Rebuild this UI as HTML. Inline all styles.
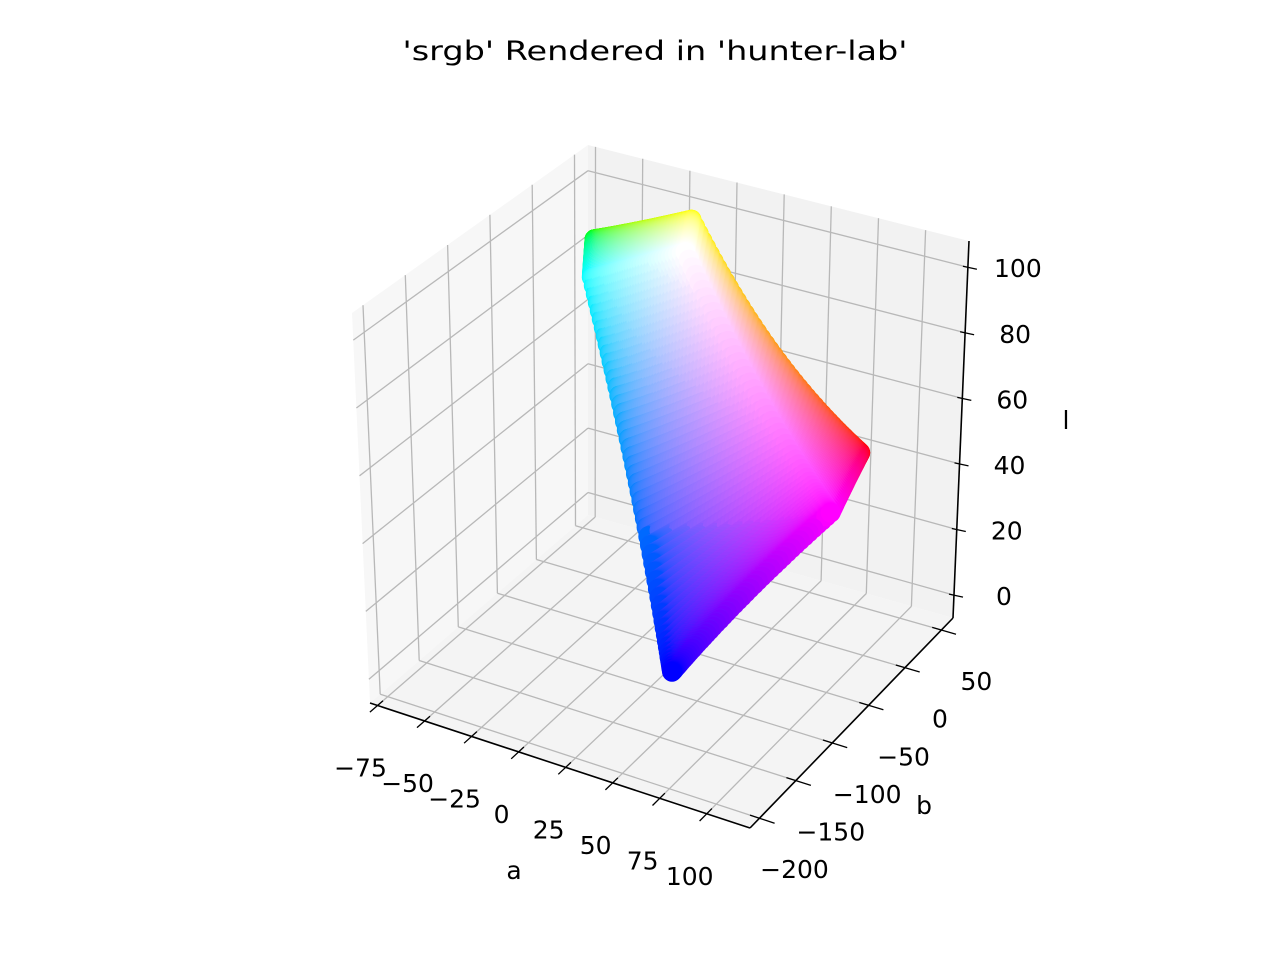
<!DOCTYPE html>
<html><head><meta charset="utf-8"><style>
html,body{margin:0;padding:0;background:#fff}
svg{display:block}
text{font-family:"DejaVu Sans","Liberation Sans",sans-serif;fill:#000}
</style></head><body>
<svg id="chart" width="1280" height="960" viewBox="0 0 1280 960" xmlns="http://www.w3.org/2000/svg">
<text x="655" y="60" text-anchor="middle" font-size="27" textLength="505" lengthAdjust="spacingAndGlyphs">'srgb' Rendered in 'hunter-lab'</text>
<g id="panes"></g>
<g id="grid"></g>
<g id="axes"></g>
<g id="pts"></g>
<g id="labels"></g>
<text x="514" y="879" text-anchor="middle" font-size="25">a</text>
<text x="924" y="814" text-anchor="middle" font-size="25">b</text>
<text x="1066" y="429" text-anchor="middle" font-size="25">l</text>
</svg>
<script>
const aTicks = [-75, -50, -25, 0, 25, 50, 75, 100];
const bTicks = [-200, -150, -100, -50, 0, 50];
const lTicks = [0, 20, 40, 60, 80, 100];
const aRange = [-79, 123];
const bRange = [-213, 66];
const lRange = [-7, 108];
const rgbLevels = [0,5,10,15,20,25,30,35,40,45,50,55,60,65,70,75,80,85,90,95,100,105,110,115,120,125,130,135,140,145,150,155,160,165,170,175,180,185,190,195,200,205,210,215,220,225,230,235,240,245,250,255];

const NS = "http://www.w3.org/2000/svg";
const C = {
 "000":[370,703],"100":[750,828],"110":[953,618],"010":[588,515],
 "001":[352,313],"101":[748,412],"111":[969,241],"011":[588,145]
};
function P(u,v,w){
  let x=0,y=0;
  for(const i of [0,1])for(const j of [0,1])for(const k of [0,1]){
    const f=(i?u:1-u)*(j?v:1-v)*(k?w:1-w);
    const c=C[""+i+j+k]; x+=f*c[0]; y+=f*c[1];
  }
  return [x,y];
}
const nu=a=>(a-aRange[0])/(aRange[1]-aRange[0]);
const nv=b=>(b-bRange[0])/(bRange[1]-bRange[0]);
const nw=l=>(l-lRange[0])/(lRange[1]-lRange[0]);
function mk(tag,attrs,parent){const e=document.createElementNS(NS,tag);for(const k in attrs)e.setAttribute(k,attrs[k]);parent.appendChild(e);return e;}
function line(p,q,parent,stroke,w){return mk("line",{x1:p[0].toFixed(1),y1:p[1].toFixed(1),x2:q[0].toFixed(1),y2:q[1].toFixed(1),stroke:stroke,"stroke-width":w},parent);}
function poly(pts,fill,parent){return mk("polygon",{points:pts.map(p=>p[0].toFixed(1)+","+p[1].toFixed(1)).join(" "),fill:fill},parent);}

const panes=document.getElementById("panes"),grid=document.getElementById("grid"),axes=document.getElementById("axes"),pts=document.getElementById("pts"),labels=document.getElementById("labels");
let e;
e=poly([P(0,0,0),P(0,1,0),P(0,1,1),P(0,0,1)],"#f7f7f7",panes);


e=poly([P(0,1,0),P(1,1,0),P(1,1,1),P(0,1,1)],"#f2f2f2",panes);


e=poly([P(0,0,0),P(1,0,0),P(1,1,0),P(0,1,0)],"#f4f4f4",panes);



const GC="#b8b8b8";
for(const a of aTicks){const u=nu(a);
  e=line(P(u,0,0),P(u,1,0),grid,GC,1.3);
  
  
  e=line(P(u,1,0),P(u,1,1),grid,GC,1.3);
  
  
}
for(const b of bTicks){const v=nv(b);
  e=line(P(0,v,0),P(1,v,0),grid,GC,1.3);
  
  
  e=line(P(0,v,0),P(0,v,1),grid,GC,1.3);
  
  
}
for(const l of lTicks){const w=nw(l);
  e=line(P(0,0,w),P(0,1,w),grid,GC,1.3);
  
  
  e=line(P(0,1,w),P(1,1,w),grid,GC,1.3);
  
  
}
e=line(P(0,0,0),P(1,0,0),axes,"#000",1.6);


e=line(P(1,0,0),P(1,1,0),axes,"#000",1.6);


e=line(P(1,1,0),P(1,1,1),axes,"#000",1.6);



function label(txt,p,parent){const t=mk("text",{x:p[0].toFixed(1),y:(p[1]+9).toFixed(1),"text-anchor":"middle","font-size":"25"},parent);t.textContent=txt;return t;}
const fmt=n=>n<0?"\u2212"+(-n):""+n;
for(const a of aTicks){const u=nu(a);
  e=line(P(u,0.025,0),P(u,-0.035,0),axes,"#000",1.3);
  
  
  const p=P(u,0,0);
  e=label(fmt(a),[p[0]-17,p[1]+62],labels);
  
  
}
for(const b of bTicks){const v=nv(b);
  e=line(P(0.975,v,0),P(1.04,v,0),axes,"#000",1.3);
  
  
  const p=P(1,v,0);
  e=label(fmt(b),[p[0]+35,p[1]+51],labels);
  
  
}
for(const l of lTicks){const w=nw(l);
  const p=P(1,1,w);
  e=line([p[0]-5,p[1]-1],[p[0]+9,p[1]+2],axes,"#000",1.3);
  
  
  e=label(fmt(l),[p[0]+50,p[1]+1],labels);
  
  
}

const lin=c=>{c/=255;return c<=0.04045?c/12.92:Math.pow((c+0.055)/1.055,2.4);};
const Xn=95.047,Yn=100,Zn=108.883,Ka=175/198.04*(Xn+Yn),Kb=70/218.11*(Yn+Zn);
function hunter(r,g,b){
  const R=lin(r),G=lin(g),B=lin(b);
  const X=100*(0.4124*R+0.3576*G+0.1805*B),Y=100*(0.2126*R+0.7152*G+0.0722*B),Z=100*(0.0193*R+0.1192*G+0.9505*B);
  const y=Y/Yn,s=Math.sqrt(y);
  if(s<1e-9)return [0,0,0];
  return [Ka*(X/Xn-y)/s,Kb*(y-Z/Zn)/s,100*s];
}
const samples=[];const seen=new Set();
for(const i of rgbLevels)for(const j of rgbLevels)for(const f of [0,255]){
  for(const c of [[f,i,j],[i,f,j],[i,j,f]]){
    const k=c.join(",");if(seen.has(k))continue;seen.add(k);
    const h=hunter(c[0],c[1],c[2]);
    const u=nu(h[0]),v=nv(h[1]),w=nw(h[2]);
    samples.push({c:c,u:u,v:v,w:w,d:0.433*u-0.75*v+0.5*w});
  }
}
samples.sort((p,q)=>p.d-q.d);
for(const s of samples){
  const p=P(s.u,s.v,s.w);
  const el=mk("circle",{cx:(p[0]+3).toFixed(1),cy:(p[1]+3).toFixed(1),r:10,fill:"rgb("+s.c.join(",")+")"},pts);
  
  
}
</script>
</body></html>
